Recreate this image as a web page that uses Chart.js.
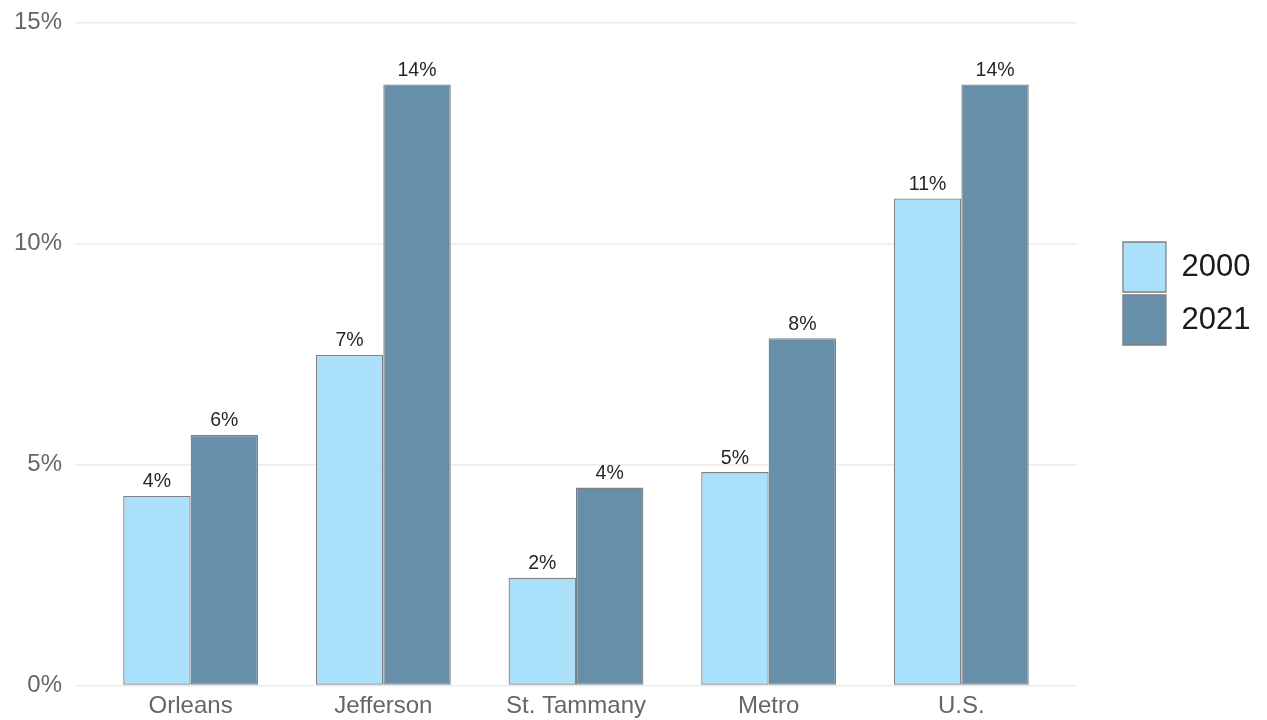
<!DOCTYPE html>
<html>
<head>
<meta charset="utf-8">
<script src="https://cdn.jsdelivr.net/npm/chart.js@4.4.1/dist/chart.umd.min.js"></script>
<style>
html,body{margin:0;padding:0;background:#fff;}
#wrap{width:1267px;height:720px;}
</style>
</head>
<body>
<div id="wrap"><canvas id="c" width="1267" height="720"></canvas></div>
<script>
const categories = ["Orleans", "Jefferson", "St. Tammany", "Metro", "U.S."];
const seriesNames = ["2000", "2021"];
const values2000 = [4.29, 7.48, 2.44, 4.83, 11.02];
const values2021 = [5.67, 13.6, 4.48, 7.86, 13.6];
const yTicks = [0, 5, 10, 15];

const FONT = "'Liberation Sans', Arial, sans-serif";

const barLabels = {
  id: 'barLabels',
  afterDatasetsDraw(chart) {
    const ctx = chart.ctx;
    ctx.save();
    ctx.font = "19.5px " + FONT;
    ctx.fillStyle = '#262626';
    ctx.textAlign = 'center';
    ctx.textBaseline = 'alphabetic';
    chart.data.datasets.forEach((ds, di) => {
      const meta = chart.getDatasetMeta(di);
      meta.data.forEach((el, i) => {
        const v = ds.data[i].y;
        ctx.fillText(Math.round(v) + '%', el.x, el.y - 8.5);
      });
    });
    ctx.restore();
  }
};

const legendShift = {
  id: 'legendShift',
  afterLayout(chart) {
    const lg = chart.legend;
    if (lg) {
      lg.left += 43; lg.right += 43;
      lg.top += 217; lg.bottom += 217;
    }
  }
};

const toPts = arr => arr.map((v, i) => ({x: i, y: v}));

new Chart(document.getElementById('c'), {
  type: 'bar',
  data: {
    datasets: [
      {label: seriesNames[0], data: toPts(values2000), backgroundColor: '#AAE0FA', borderColor: '#808080', borderWidth: 1.3, borderSkipped: false},
      {label: seriesNames[1], data: toPts(values2021), backgroundColor: '#678FAA', borderColor: '#808080', borderWidth: 1.3, borderSkipped: false}
    ]
  },
  options: {
    responsive: false,
    animation: false,
    categoryPercentage: 0.7,
    barPercentage: 1.0,
    layout: {padding: {left: 1, top: 22, right: 49.6, bottom: 0}},
    plugins: {
      tooltip: {enabled: false},
      legend: {
        position: 'right',
        align: 'start',
        labels: {
          boxWidth: 43,
          boxHeight: 50,
          padding: 3,
          color: '#1a1a1a',
          font: {family: FONT, size: 31}
        }
      }
    },
    scales: {
      x: {
        type: 'linear',
        offset: false,
        min: -0.6,
        max: 4.6,
        grid: {display: false},
        border: {display: false},
        afterBuildTicks(scale) { scale.ticks = categories.map((c, i) => ({value: i})); },
        ticks: {
          autoSkip: false,
          maxRotation: 0,
          padding: 3,
          color: '#666666',
          font: {family: FONT, size: 24, lineHeight: 0.85},
          callback: v => categories[v]
        }
      },
      y: {
        min: 0,
        max: 15,
        grid: {color: '#EBEBEB', lineWidth: 1.5, drawTicks: false},
        border: {display: false},
        afterBuildTicks(scale) { scale.ticks = yTicks.map(v => ({value: v})); },
        ticks: {
          padding: 13,
          color: '#666666',
          font: {family: FONT, size: 24, lineHeight: 0.8},
          callback: v => v + '%'
        }
      }
    }
  },
  plugins: [barLabels, legendShift]
});
</script>
</body>
</html>
